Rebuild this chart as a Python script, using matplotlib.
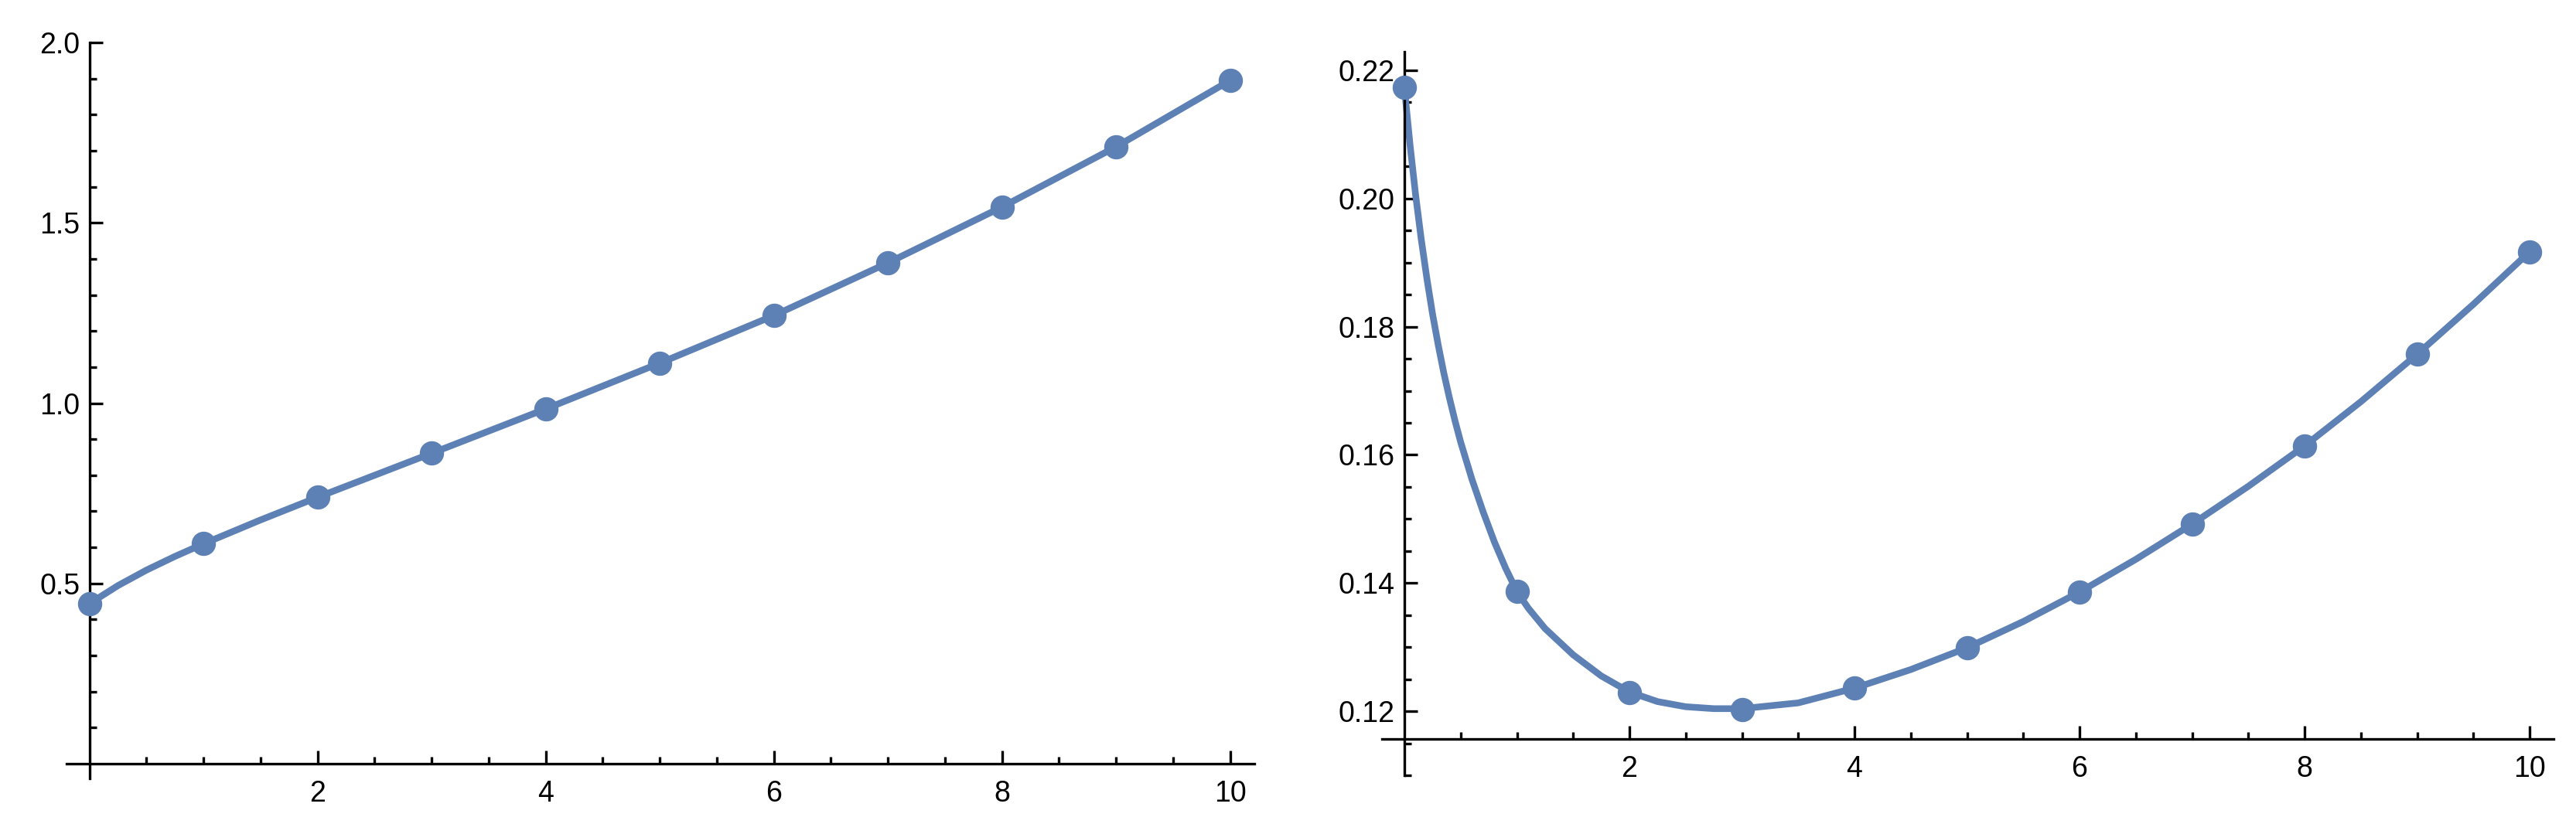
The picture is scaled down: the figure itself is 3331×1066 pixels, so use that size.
import matplotlib
matplotlib.use("Agg")
import matplotlib.pyplot as plt
from matplotlib.ticker import FixedLocator

# data points
pts_x = [0, 1, 2, 3, 4, 5, 6, 7, 8, 9, 10]
left_y = [0.444, 0.610, 0.739, 0.861, 0.984, 1.111, 1.243, 1.389, 1.544, 1.711, 1.895]
right_y = [0.2173, 0.1387, 0.1229, 0.1203, 0.1236, 0.1299, 0.1386, 0.1492, 0.1614, 0.1757, 0.1917]

# fitted curves
left_fit_x = [0, 0.25, 0.5, 0.75, 1, 1.5, 2, 2.5, 3, 4, 5, 6, 7, 8, 9, 10]
left_fit_y = [0.444, 0.494, 0.537, 0.575, 0.610, 0.676, 0.739, 0.800, 0.861, 0.984,
              1.111, 1.243, 1.389, 1.544, 1.711, 1.895]
right_fit_x = [0, 0.05, 0.1, 0.15, 0.2, 0.25, 0.3, 0.35, 0.4, 0.45, 0.5, 0.6, 0.7,
               0.8, 0.9, 1.0, 1.1, 1.25, 1.5, 1.75, 2.0, 2.25, 2.5, 2.75, 3.0, 3.5,
               4.0, 4.5, 5.0, 5.5, 6.0, 6.5, 7.0, 7.5, 8.0, 8.5, 9.0, 9.5, 10.0]
right_fit_y = [0.2173, 0.2084, 0.2005, 0.1936, 0.1875, 0.1820, 0.1772, 0.1728, 0.1689,
               0.1653, 0.1620, 0.1562, 0.1511, 0.1464, 0.1423, 0.1387, 0.1361, 0.1329,
               0.1288, 0.1255, 0.1230, 0.1215, 0.1207, 0.1204, 0.1204, 0.1213, 0.1236,
               0.1265, 0.1299, 0.1340, 0.1386, 0.1437, 0.1492, 0.1551, 0.1614, 0.1683,
               0.1757, 0.1835, 0.1917]

x_major = [2, 4, 6, 8, 10]
x_minor = [0.5, 1, 1.5, 2.5, 3, 3.5, 4.5, 5, 5.5, 6.5, 7, 7.5, 8.5, 9, 9.5]
left_y_major = [0.5, 1.0, 1.5, 2.0]
left_y_minor = [0.1, 0.2, 0.3, 0.4, 0.6, 0.7, 0.8, 0.9, 1.1, 1.2, 1.3, 1.4,
                1.6, 1.7, 1.8, 1.9]
right_y_major = [0.12, 0.14, 0.16, 0.18, 0.20, 0.22]
right_y_minor = [0.11, 0.115, 0.125, 0.13, 0.135, 0.145, 0.15, 0.155, 0.165, 0.17,
                 0.175, 0.185, 0.19, 0.195, 0.205, 0.21, 0.215]

color = '#5E81B5'
plt.rcParams['font.family'] = ['Liberation Sans', 'DejaVu Sans']

fig = plt.figure(figsize=(33.31, 10.66), dpi=100)
ax1 = fig.add_axes([0.02588, 0.05525, 0.46097, 0.8931])
ax2 = fig.add_axes([0.53645, 0.0591, 0.45473, 0.87805])


def style(ax, xlim, ylim, x0, y0, ymaj, ymin, fmt):
    ax.set_xlim(*xlim)
    ax.set_ylim(*ylim)
    for s in ['top', 'right']:
        ax.spines[s].set_visible(False)
    # axes cross like in Mathematica
    ax.spines['left'].set_position(('data', x0))
    ax.spines['bottom'].set_position(('data', y0))
    for s in ['left', 'bottom']:
        ax.spines[s].set_linewidth(2.4)
    ax.xaxis.set_major_locator(FixedLocator(x_major))
    ax.xaxis.set_minor_locator(FixedLocator(x_minor))
    ax.yaxis.set_major_locator(FixedLocator(ymaj))
    ax.yaxis.set_minor_locator(FixedLocator(ymin))
    ax.set_xticklabels([str(v) for v in x_major])
    ax.set_yticklabels([fmt % v for v in ymaj])
    ax.tick_params(which='both', direction='in', width=2.4, labelsize=27)
    ax.tick_params(which='major', length=12.5)
    ax.tick_params(which='minor', length=6.5)
    ax.tick_params(axis='x', pad=15)
    ax.tick_params(axis='y', pad=9)


style(ax1, (-0.2, 10.21), (-0.041, 2.0), 0, 0, left_y_major, left_y_minor, '%.1f')
style(ax2, (-0.2, 10.21), (0.11, 0.2229), 0, 0.11566, right_y_major, right_y_minor, '%.2f')

ax1.plot(left_fit_x, left_fit_y, color=color, lw=6.2, zorder=2, clip_on=False,
         solid_joinstyle='round')
ax1.plot(pts_x, left_y, 'o', color=color, ms=21.6, zorder=3, clip_on=False)
ax2.plot(right_fit_x, right_fit_y, color=color, lw=6.2, zorder=2, clip_on=False,
         solid_joinstyle='round')
ax2.plot(pts_x, right_y, 'o', color=color, ms=21.6, zorder=3, clip_on=False)

plt.savefig('out.png', dpi=100)
